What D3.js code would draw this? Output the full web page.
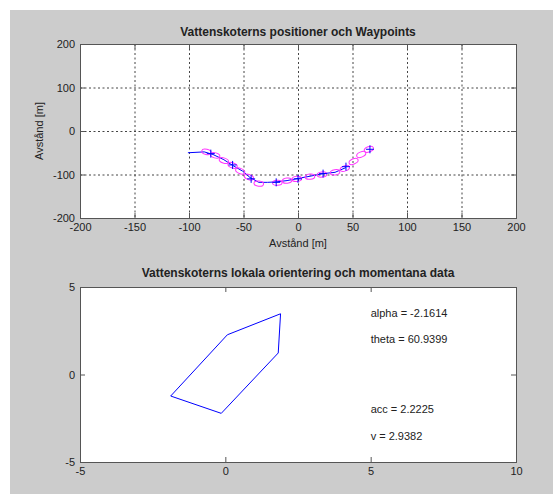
<!DOCTYPE html>
<html>
<head>
<meta charset="utf-8">
<script src="https://cdn.jsdelivr.net/npm/d3@7"></script>
<style>
  body { margin: 0; background: #fff; }
  text { font-family: "Liberation Sans", Arial, sans-serif; fill: #222; }
</style>
</head>
<body>
<svg id="fig" width="553" height="494"></svg>
<script>
// trajectory (blue line)
const trackX = [-101, -86, -78, -68, -60, -51, -44, -36, -28, -20, -10, 0, 11, 23, 34, 44];
const trackY = [-50, -48, -54, -66, -79, -92, -107, -118, -118, -117, -114, -109, -104, -98, -95, -84];
// waypoints (+)
const wpX = [-80, -60, -43, -20, 0, 23, 44, 66];
const wpY = [-52, -78, -110, -118, -110, -98, -82, -42];
// positions (o)
const posX = [-84, -76, -68, -60, -53, -45, -36, -19, -10, -1, 11, 22, 34, 43, 51, 58, 65];
const posY = [-48, -56, -68, -79, -92, -106, -121, -119, -114, -110, -105, -100, -95, -86, -70, -54, -42];

// local orientation (hull outline)
const hullX = [0.07, 1.9, 1.82, -0.14, -1.88, 0.07];
const hullY = [2.27, 3.47, 1.23, -2.22, -1.23, 2.27];
const infoText = ["alpha = -2.1614", "theta = 60.9399", "acc = 2.2225", "v = 2.9382"];
const infoY = [3.5, 2, -2, -3.5];

const xTicksTop = [-200, -150, -100, -50, 0, 50, 100, 150, 200];
const yTicksTop = [-200, -100, 0, 100, 200];
const xTicksBot = [-5, 0, 5, 10];
const yTicksBot = [-5, 0, 5];

const svg = d3.select("#fig");
svg.append("rect").attr("x", 10).attr("y", 10).attr("width", 543).attr("height", 484).attr("fill", "#cccccc");

// plain hyphen minus, like the original figure
const fmt = d => String(d);

function makeAxes(box, xDom, yDom, xTicks, yTicks, grid) {
    const x = d3.scaleLinear().domain(xDom).range([box.l, box.r]);
    const y = d3.scaleLinear().domain(yDom).range([box.b, box.t]);
    const g = svg.append("g");
    g.append("rect")
        .attr("x", box.l).attr("y", box.t)
        .attr("width", box.r - box.l).attr("height", box.b - box.t)
        .attr("fill", "#fff");

    if (grid) {
        g.selectAll(".vgrid").data(xTicks.slice(1, -1)).enter().append("line")
            .attr("x1", d => x(d) + 0.5).attr("x2", d => x(d) + 0.5)
            .attr("y1", box.t).attr("y2", box.b)
            .attr("stroke", "#444").attr("stroke-dasharray", "2,2.5");
        g.selectAll(".hgrid").data(yTicks.slice(1, -1)).enter().append("line")
            .attr("y1", d => y(d) + 0.5).attr("y2", d => y(d) + 0.5)
            .attr("x1", box.l).attr("x2", box.r)
            .attr("stroke", "#444").attr("stroke-dasharray", "2,2.5");
    }

    const style = sel => {
        sel.selectAll(".domain").remove();
        sel.selectAll("line").attr("stroke", "#555");
        sel.selectAll("text").style("font-size", "11px").attr("fill", "#222");
    };
    g.append("g").attr("transform", `translate(0,${box.b})`)
        .call(d3.axisBottom(x).tickValues(xTicks).tickFormat(fmt)
            .tickSizeInner(-5).tickSizeOuter(0).tickPadding(5)).call(style);
    g.append("g").attr("transform", `translate(0,${box.t})`)
        .call(d3.axisTop(x).tickValues(xTicks).tickFormat("")
            .tickSizeInner(-5).tickSizeOuter(0)).call(style);
    g.append("g").attr("transform", `translate(${box.l},0)`)
        .call(d3.axisLeft(y).tickValues(yTicks).tickFormat(fmt)
            .tickSizeInner(-5).tickSizeOuter(0).tickPadding(5)).call(style);
    g.append("g").attr("transform", `translate(${box.r},0)`)
        .call(d3.axisRight(y).tickValues(yTicks).tickFormat("")
            .tickSizeInner(-5).tickSizeOuter(0)).call(style);

    g.append("rect")
        .attr("x", box.l + 0.5).attr("y", box.t + 0.5)
        .attr("width", box.r - box.l).attr("height", box.b - box.t)
        .attr("fill", "none").attr("stroke", "#555");
    return { x, y, g };
}

// --- top plot
const topAx = makeAxes({ l: 80, r: 516, t: 44, b: 218 }, [-200, 200], [-200, 200], xTicksTop, yTicksTop, true);

const line = d3.line().x(i => topAx.x(trackX[i])).y(i => topAx.y(trackY[i]));
topAx.g.append("path")
    .attr("d", line(d3.range(trackX.length)))
    .attr("fill", "none").attr("stroke", "#0000ff").attr("stroke-width", 1);

topAx.g.selectAll(".pos").data(d3.range(posX.length)).enter().append("ellipse")
    .attr("cx", i => topAx.x(posX[i])).attr("cy", i => topAx.y(posY[i]))
    .attr("rx", 4.8).attr("ry", 2.6)
    .attr("transform", i => {
        const a = Math.max(0, i - 1), b = Math.min(posX.length - 1, i + 1);
        const ang = Math.atan2(topAx.y(posY[b]) - topAx.y(posY[a]), topAx.x(posX[b]) - topAx.x(posX[a])) * 180 / Math.PI;
        return `rotate(${ang * 0.6},${topAx.x(posX[i])},${topAx.y(posY[i])})`;
    })
    .attr("fill", "none").attr("stroke", "#ff33ff").attr("stroke-width", 1);

const plus = topAx.g.selectAll(".wp").data(d3.range(wpX.length)).enter().append("g")
    .attr("transform", i => `translate(${topAx.x(wpX[i])},${topAx.y(wpY[i])})`);
plus.append("line").attr("x1", -4).attr("x2", 4).attr("stroke", "#0000ff");
plus.append("line").attr("y1", -4).attr("y2", 4).attr("stroke", "#0000ff");

svg.append("text").attr("x", 298).attr("y", 36).attr("text-anchor", "middle")
    .style("font-size", "12px").style("font-weight", "bold")
    .text("Vattenskoterns positioner och Waypoints");
svg.append("text").attr("x", 298).attr("y", 247).attr("text-anchor", "middle")
    .style("font-size", "11px").text("Avstånd [m]");
svg.append("text").attr("transform", "translate(43,131) rotate(-90)").attr("text-anchor", "middle")
    .style("font-size", "11px").text("Avstånd [m]");

// --- bottom plot
const botAx = makeAxes({ l: 80, r: 516, t: 287, b: 462 }, [-5, 10], [-5, 5], xTicksBot, yTicksBot, false);

const hull = d3.line().x(i => botAx.x(hullX[i])).y(i => botAx.y(hullY[i]));
botAx.g.append("path")
    .attr("d", hull(d3.range(hullX.length)))
    .attr("fill", "none").attr("stroke", "#0000ff").attr("stroke-width", 1);

botAx.g.selectAll(".info").data(infoText).enter().append("text")
    .attr("x", botAx.x(5)).attr("y", (d, i) => botAx.y(infoY[i]))
    .attr("dy", "0.35em")
    .style("font-size", "11px").text(d => d);

svg.append("text").attr("x", 298).attr("y", 277).attr("text-anchor", "middle")
    .style("font-size", "12px").style("font-weight", "bold")
    .text("Vattenskoterns lokala orientering och momentana data");
</script>
</body>
</html>
